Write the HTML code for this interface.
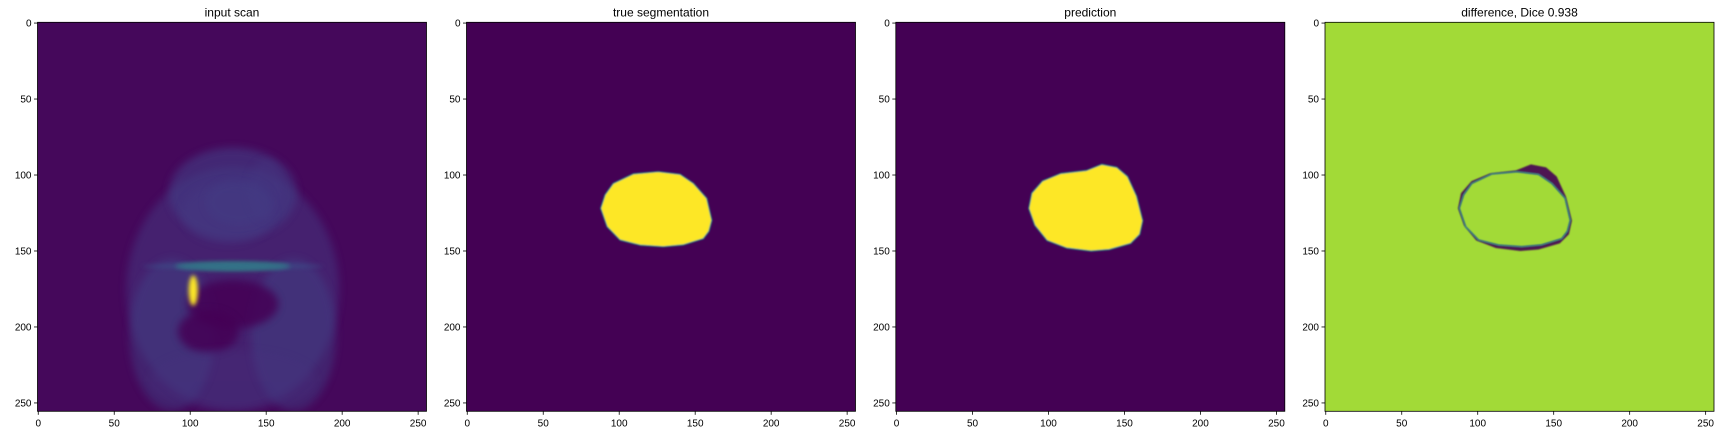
<!DOCTYPE html>
<html><head><meta charset="utf-8"><style>
html,body{margin:0;padding:0;background:#fff}
svg{display:block}
text{font-family:"Liberation Sans","DejaVu Sans",sans-serif;fill:#000}
</style></head><body>
<svg id="fig" width="1728" height="432" viewBox="0 0 1728 432" xmlns="http://www.w3.org/2000/svg">
<defs>
<filter id="b1" x="-50%" y="-50%" width="200%" height="200%"><feGaussianBlur stdDeviation="4"/></filter>
<filter id="b2" x="-50%" y="-50%" width="200%" height="200%"><feGaussianBlur stdDeviation="2"/></filter>
<filter id="b3" x="-50%" y="-50%" width="200%" height="200%"><feGaussianBlur stdDeviation="0.8"/></filter>
</defs>
<g id="panels"></g>
</svg>
<script>
const panelTitles = ["input scan","true segmentation","prediction","difference, Dice 0.938"];
const panelLefts = [37.5, 466.5, 895.8, 1325];
const ticks = [0,50,100,150,200,250];
const imgSize = 256;
// contours in image (data) coordinates
const trueX = [87.8,90.7,96.1,109.3,125.7,140,148.8,157.6,160.9,159,155.3,142,129,113.7,100.5,92];
const trueY = [121.9,113,105.5,99.3,97.8,99.5,105.5,115.3,129.8,137,141.9,146,147.2,146.1,142.8,134];
const predX = [87,89,96,108,125,135,145,152,158,162,160,154,140,128,112,99,91];
const predY = [122,112,104,99,97,93,95,101,114,130,139,145,149,150,148,143,133];
// input scan regions: [cx, cy, rx, ry, color, opacity]
const scanCx = [128,128,125,88,168,128,128,112,102,128,150,132,128];
const scanCy = [175,112,125,205,205,160,185,203,176,235,110,118,160];
const scanRx = [70,42,30,28,28,38,30,20,3,55,12,22,60];
const scanRy = [80,30,20,50,50,3,16,14,10,20,20,15,2];
const scanCol = ["#443a83","#433e85","#453781","#414487","#414487","#2a9d8a","#440154","#440154","#fde725","#46307e","#453882","#433e85","#3b528b"];
const scanOp = [0.5,0.6,0.5,0.45,0.45,0.85,0.85,0.85,1,0.3,0.4,0.4,0.5];

const S = 389/imgSize, TOP = 22.3;
const NS = "http://www.w3.org/2000/svg";
const root = document.getElementById('panels');
function mk(tag, attrs, parent){const e=document.createElementNS(NS,tag);for(const k in attrs)e.setAttribute(k,attrs[k]);parent.appendChild(e);return e;}
function sx(i,v){return panelLefts[i]+(v+0.5)*S;}
function sy(v){return TOP+(v+0.5)*S;}
function pathFrom(i,xs,ys){let d='';for(let k=0;k<xs.length;k++){const px=sx(i,xs[k]),py=sy(ys[k]);d+=(k?'L':'M')+px.toFixed(1)+' '+py.toFixed(1);}return d+'Z';}

panelTitles.forEach((t,i)=>{
  const L=panelLefts[i], W=imgSize*S;
  const g=mk('g',{},root);
  
  
  const cp=mk('clipPath',{id:'cp'+i},g);
  mk('rect',{x:L,y:TOP,width:W,height:W},cp);
  const img=mk('g',{'clip-path':'url(#cp'+i+')'},g);
  
  
  if(i===0){
    mk('rect',{x:L,y:TOP,width:W,height:W,fill:'#45085b'},img);
    for(let k=0;k<scanCx.length;k++){
      const e=mk('ellipse',{cx:sx(0,scanCx[k]),cy:sy(scanCy[k]),rx:scanRx[k]*S,ry:scanRy[k]*S,fill:scanCol[k],opacity:scanOp[k],filter:(k===8||k===5||k===12)?'url(#b2)':'url(#b1)'},img);
      
      
    }
  } else if(i===1||i===2){
    mk('rect',{x:L,y:TOP,width:W,height:W,fill:'#440154'},img);
    const xs=i===1?trueX:predX, ys=i===1?trueY:predY;
    const p=mk('path',{d:pathFrom(i,xs,ys),fill:'#fde725',stroke:'#21918c','stroke-width':1.2,'stroke-linejoin':'round',filter:'url(#b3)'},img);
    
    
  } else {
    mk('rect',{x:L,y:TOP,width:W,height:W,fill:'#a2da37'},img);
    const p=mk('path',{d:pathFrom(i,predX,predY)+pathFrom(i,trueX,trueY),fill:'#440154','fill-rule':'evenodd',opacity:0.9,filter:'url(#b3)'},img);
    
    
    const r=mk('path',{d:pathFrom(i,trueX,trueY),fill:'none',stroke:'#2a788e','stroke-width':1.4,filter:'url(#b3)'},img);
    
    
  }
  mk('rect',{x:L,y:TOP,width:W,height:W,fill:'none',stroke:'#000','stroke-width':0.8},g);
  const tt=mk('text',{x:L+W/2,y:TOP-6,'text-anchor':'middle','font-size':12},g);
  tt.textContent=t;
  
  
  ticks.forEach(v=>{
    const x=sx(i,v), y=sy(v);
    mk('line',{x1:x,x2:x,y1:TOP+W,y2:TOP+W+3.5,stroke:'#000','stroke-width':0.8},g);
    const xl=mk('text',{x:x,y:TOP+W+15,'text-anchor':'middle','font-size':10},g);
    xl.textContent=v;
    
    
    mk('line',{x1:L,x2:L-3.5,y1:y,y2:y,stroke:'#000','stroke-width':0.8},g);
    const yl=mk('text',{x:L-6,y:y+3.5,'text-anchor':'end','font-size':10},g);
    yl.textContent=v;
    
    
  });
});
</script>
</body></html>
